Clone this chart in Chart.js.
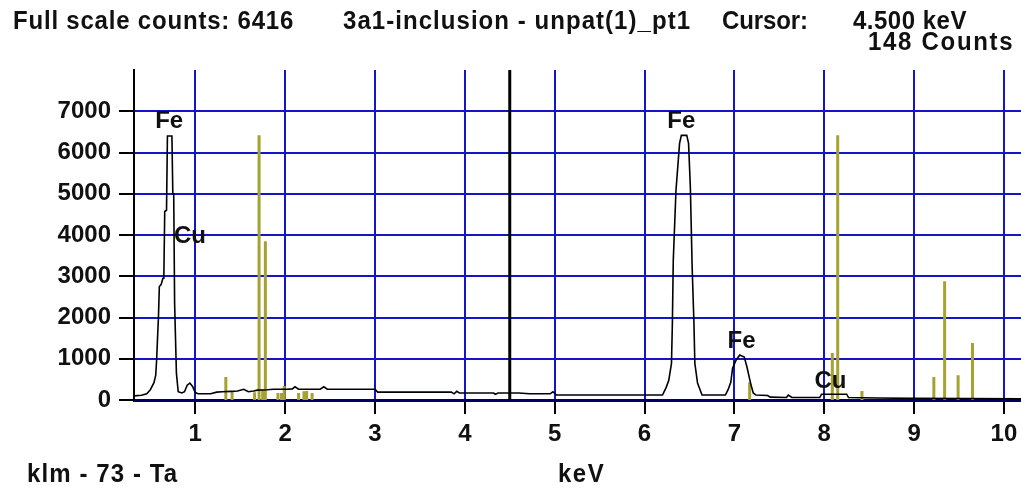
<!DOCTYPE html>
<html><head><meta charset="utf-8">
<script src="https://cdn.jsdelivr.net/npm/chart.js@4.4.1/dist/chart.umd.min.js"></script>
<style>
html,body{margin:0;padding:0;background:#fff;}
#wrap{position:relative;width:1021px;height:491px;overflow:hidden;background:#fff;}
canvas{position:absolute;left:0;top:0;}
.t{position:absolute;font-family:"Liberation Sans",Arial,sans-serif;font-weight:bold;font-size:24px;line-height:24px;color:#111;white-space:nowrap;letter-spacing:0.5px;transform:scaleY(1.08);transform-origin:0 20px;}
.lbl{position:absolute;font-family:"Liberation Sans",Arial,sans-serif;font-weight:bold;font-size:24px;line-height:24px;color:#111;white-space:nowrap;transform:translateX(-50%);}
</style></head><body>
<div id="wrap">
<canvas id="c" width="1021" height="491"></canvas>
<div class="t" style="left:13px;top:9px;letter-spacing:0.8px">Full scale counts: 6416</div>
<div class="t" style="left:343px;top:9px;letter-spacing:1.05px">3a1-inclusion - unpat(1)_pt1</div>
<div class="t" style="left:722px;top:9px;letter-spacing:-0.1px">Cursor:</div>
<div class="t" style="left:853px;top:9px;letter-spacing:0.5px">4.500 keV</div>
<div class="t" style="left:868px;top:30px;letter-spacing:1.7px">148 Counts</div>
<div class="t" style="left:27px;top:462px;letter-spacing:1.1px">klm - 73 - Ta</div>
<div class="t" style="left:558px;top:462px;letter-spacing:1.5px">keV</div>
</div>
<script>
// Spectrum (keV, counts)
const energyKeV = [0.32,0.40,0.46,0.50,0.54,0.56,0.57,0.58,0.59,0.60,0.62,0.64,0.65,0.66,0.68,0.69,0.74,0.75,0.76,0.77,0.79,0.81,0.85,0.88,0.91,0.94,0.97,1.00,1.03,1.10,1.17,1.24,1.30,1.40,1.47,1.54,1.59,1.65,1.69,1.80,1.87,2.02,2.08,2.11,2.15,2.39,2.43,2.47,3.00,3.03,3.85,3.88,3.91,3.94,4.32,4.34,4.37,4.60,4.72,4.95,4.98,5.02,6.20,6.24,6.27,6.30,6.31,6.32,6.35,6.39,6.41,6.47,6.49,6.51,6.53,6.55,6.56,6.59,6.64,6.90,6.93,6.96,6.98,7.02,7.06,7.11,7.14,7.18,7.21,7.24,7.37,7.40,7.58,7.60,7.64,7.95,7.97,8.25,8.27,8.60,9.00,10.19];
const counts    = [100,115,150,250,420,600,980,1500,2000,2750,2800,2950,2950,4570,4600,6400,6400,5000,5000,2350,650,200,170,200,360,410,330,180,150,150,150,190,200,210,220,260,200,220,240,250,260,260,270,320,260,260,320,260,260,190,190,150,210,170,170,140,170,170,150,150,200,120,120,300,480,890,1860,3390,5080,6220,6416,6416,6220,5160,3220,1860,890,410,120,120,250,430,770,970,1090,1040,800,410,170,120,110,70,60,120,60,60,140,140,60,50,40,30];

// Ta KLM marker lines
const markerKeV    = [1.34,1.41,1.66,1.71,1.75,1.78,1.92,1.96,1.99,2.15,2.21,2.24,2.30,7.17,8.09,8.15,8.42,9.22,9.34,9.49,9.65];
const markerCounts = [560,210,190,6416,260,3850,170,170,340,170,210,220,170,430,1140,6416,220,560,2880,600,1380];

// Peak labels
const peakLabels = ['Fe','Cu','Fe','Fe','Cu'];
const labelKeV   = [0.71,0.94,6.41,7.08,8.07];
const labelCounts= [6600,3800,6600,1260,290];

const xTickValues = [1,2,3,4,5,6,7,8,9,10];
const yTickValues = [0,1000,2000,3000,4000,5000,6000,7000];
const cursorKeV = 4.5;
const xMin = 0.318, xMax = 10.19, yMax = 8000;

function spikes(xs, ys){
  const pts = [];
  xs.forEach((x,i)=>{ pts.push({x:x,y:0},{x:x,y:ys[i]},{x:x,y:null}); });
  return pts;
}

const tickFont = {family:'"Liberation Sans", Arial, sans-serif', weight:'bold', size:24};
const gridBlue = '#1414c8';

const chart = new Chart(document.getElementById('c'), {
  type:'line',
  data:{datasets:[
    {data: energyKeV.map((x,i)=>({x:x,y:counts[i]})), borderColor:'#000', borderWidth:1.6, pointRadius:0, tension:0, fill:false},
    {data: spikes(markerKeV, markerCounts), borderColor:'#a6a232', borderWidth:3, pointRadius:0, spanGaps:false, fill:false},
    {data: [{x:cursorKeV,y:0},{x:cursorKeV,y:yMax}], borderColor:'#000', borderWidth:3, pointRadius:0, fill:false}
  ]},
  options:{
    responsive:false, animation:false, events:[],
    layout:{padding:{top:70,right:0,left:0,bottom:0}},
    plugins:{legend:{display:false}, tooltip:{enabled:false}, title:{display:false}},
    scales:{
      x:{type:'linear', min:xMin, max:xMax,
        afterBuildTicks: s=>{ s.ticks = xTickValues.map(v=>({value:v})); },
        ticks:{font:tickFont, color:'#111', padding:6, maxRotation:0, autoSkip:false, callback:v=>String(v)},
        grid:{color:gridBlue, lineWidth:2, tickColor:'#000', tickLength:14, tickWidth:2},
        border:{color:'#000060', width:3},
        afterFit: s=>{ s.height = 91; s.paddingLeft = 0; s.paddingRight = 0; }
      },
      y:{type:'linear', min:0, max:yMax,
        afterBuildTicks: s=>{ s.ticks = yTickValues.map(v=>({value:v})); },
        ticks:{font:tickFont, color:'#111', padding:8, callback:v=>String(v)},
        grid:{color:gridBlue, lineWidth:2, tickColor:'#000', tickLength:15, tickWidth:2},
        border:{color:'#000', width:2},
        afterFit: s=>{ s.width = 134; s.paddingTop = 0; s.paddingBottom = 0; }
      }
    }
  }
});

const wrap = document.getElementById('wrap');
peakLabels.forEach((t,i)=>{
  const d = document.createElement('div');
  d.className = 'lbl';
  d.textContent = t;
  d.style.left = chart.scales.x.getPixelForValue(labelKeV[i]) + 'px';
  d.style.top = (chart.scales.y.getPixelForValue(labelCounts[i]) - 20) + 'px';
  wrap.appendChild(d);
});
</script>
</body></html>
